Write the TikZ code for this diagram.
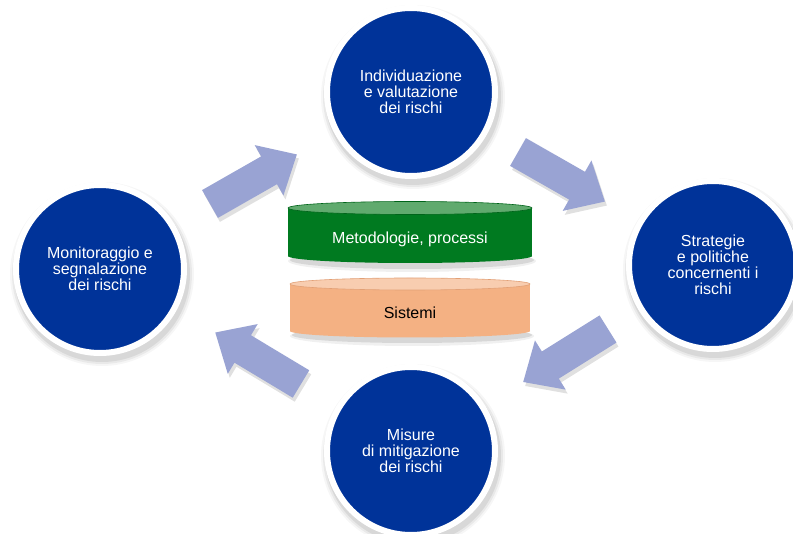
\documentclass[tikz,border=0pt]{standalone}
\usepackage{fontspec}
\setmainfont{Liberation Sans}
\definecolor{cblue}{RGB}{0,51,153}
\definecolor{carrow}{RGB}{153,163,211}
\definecolor{cgreen}{RGB}{0,122,32}
\definecolor{cgreenline}{RGB}{0,100,26}
\definecolor{cgreentop}{RGB}{96,170,110}
\definecolor{corange}{RGB}{244,177,131}
\definecolor{corangeline}{RGB}{226,160,118}
\definecolor{corangetop}{RGB}{248,205,176}
\newcommand\myblockarrow[3]{%
  \begin{scope}[shift={(#1+2,#2+4)}, rotate=#3]
    \fill[black, opacity=0.12] (0,-16) -- (68,-16) -- (68,-29) -- (100,0) -- (68,29) -- (68,16) -- (0,16) -- cycle;
  \end{scope}
  \begin{scope}[shift={(#1,#2)}, rotate=#3]
    \fill[carrow] (0,-16) -- (68,-16) -- (68,-29) -- (100,0) -- (68,29) -- (68,16) -- (0,16) -- cycle;
  \end{scope}}
\newcommand\mycircshadow[2]{%
  \fill[black, opacity=0.035] (#1+2,#2+5) circle[radius=92pt];
  \fill[black, opacity=0.05] (#1+2,#2+5) circle[radius=90pt];
  \fill[black, opacity=0.07] (#1+2,#2+5) circle[radius=88pt];}
\begin{document}
\begin{tikzpicture}[x=1pt, y=-1pt,
  circ/.style={circle, fill=cblue, draw=white, line width=6pt, minimum size=168pt,
    inner sep=0pt, text=white, align=center, font=\fontsize{16}{16}\selectfont},
  lbl/.style={inner sep=0pt, align=center, font=\fontsize{16}{16}\selectfont}]
\useasboundingbox (0,0) rectangle (793,534);
\fill[white] (0,0) rectangle (793,534);

% arrows
\myblockarrow{210}{204}{29.7}
\myblockarrow{518}{152}{-29.7}
\myblockarrow{608}{329}{-148}
\myblockarrow{301}{384}{149}

% circle shadows
\mycircshadow{411}{92}
\mycircshadow{100}{269}
\mycircshadow{713}{265}
\mycircshadow{411}{451}

% circles
\node[circ] (ind) at (411,92) {Individuazione\\e valutazione\\dei rischi};
\node[circ] (mon) at (100,269) {Monitoraggio e\\segnalazione\\dei rischi};
\node[circ] (str) at (713,265) {Strategie\\e politiche\\concernenti i\\rischi};
\node[circ] (mis) at (411,451) {Misure\\di mitigazione\\dei rischi};

% green cylinder
\fill[black, opacity=0.06] (412,261) ellipse[x radius=124pt, y radius=11pt];
\fill[black, opacity=0.10] (412,260) ellipse[x radius=122pt, y radius=9pt];
\fill[cgreen] (288,208) rectangle (532,256);
\fill[cgreen] (410,256) ellipse[x radius=122pt, y radius=7pt];
\filldraw[fill=cgreentop, draw=cgreenline, line width=0.6pt] (410,208) ellipse[x radius=122pt, y radius=6.5pt];
\node[lbl, text=white] (met) at (410,239) {Metodologie, processi};

% orange cylinder
\fill[black, opacity=0.06] (412,336) ellipse[x radius=122pt, y radius=10pt];
\fill[black, opacity=0.10] (412,335) ellipse[x radius=120pt, y radius=8pt];
\fill[corange] (290,284) rectangle (530,331);
\fill[corange] (410,331) ellipse[x radius=120pt, y radius=6.5pt];
\filldraw[fill=corangetop, draw=corangeline, line width=0.6pt] (410,284) ellipse[x radius=120pt, y radius=6pt];
\node[lbl, text=black] (sis) at (410,313) {Sistemi};
\end{tikzpicture}
\end{document}
